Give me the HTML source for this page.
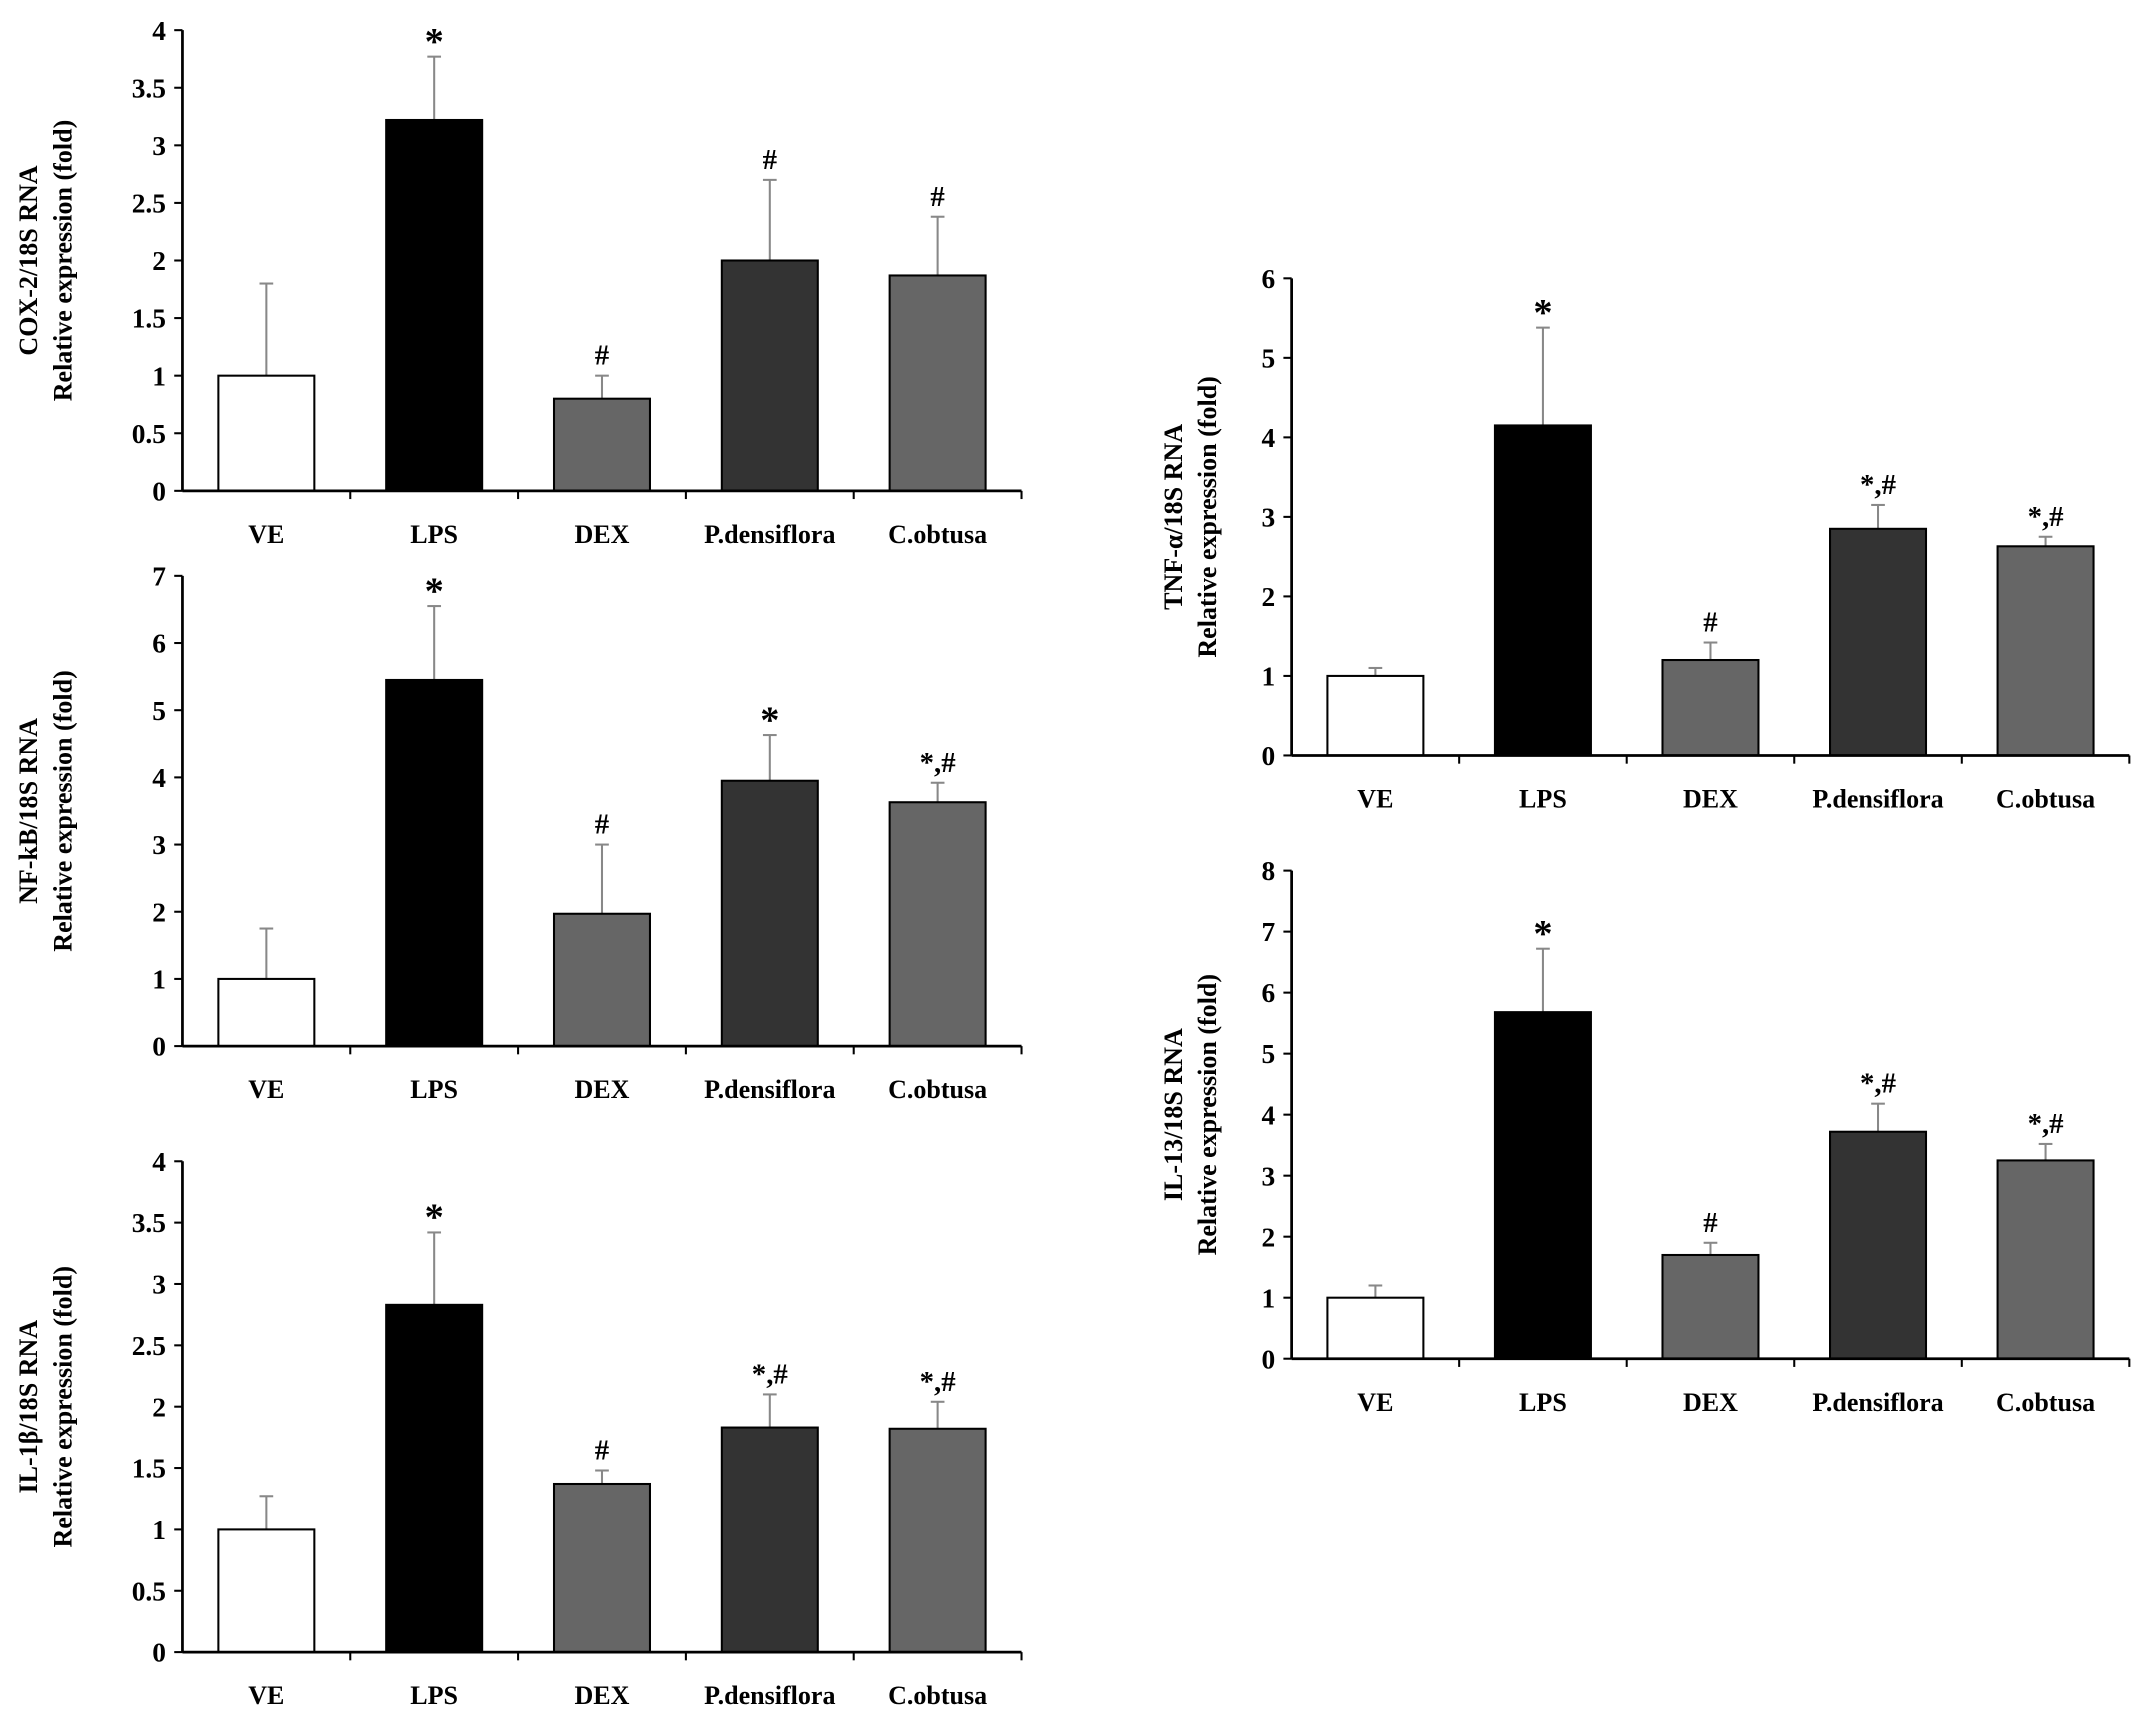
<!DOCTYPE html>
<html><head><meta charset="utf-8"><style>
html,body{margin:0;padding:0;background:#fff;}
svg{display:block;}
text{font-family:"Liberation Serif",serif;font-weight:bold;fill:#000;}
</style></head><body>
<svg id="fig" width="2150" height="1733" viewBox="0 0 1568 1264" xmlns="http://www.w3.org/2000/svg"></svg>
<script>
const categories = ["VE","LPS","DEX","P.densiflora","C.obtusa"];
const colors = ["#ffffff","#000000","#666666","#333333","#666666"];
const cox2Values = [1.0,3.22,0.8,2.0,1.87];
const cox2Errors = [1.8,3.77,1.0,2.7,2.38];
const cox2Marks = ["","*","#","#","#"];
const cox2Ticks = ["0","0.5","1","1.5","2","2.5","3","3.5","4"];
const nfkbValues = [1.0,5.45,1.97,3.95,3.63];
const nfkbErrors = [1.75,6.55,3.0,4.63,3.92];
const nfkbMarks = ["","*","#","*","*,#"];
const nfkbTicks = ["0","1","2","3","4","5","6","7"];
const il1bValues = [1.0,2.83,1.37,1.83,1.82];
const il1bErrors = [1.27,3.42,1.48,2.1,2.04];
const il1bMarks = ["","*","#","*,#","*,#"];
const il1bTicks = ["0","0.5","1","1.5","2","2.5","3","3.5","4"];
const tnfValues = [1.0,4.15,1.2,2.85,2.63];
const tnfErrors = [1.1,5.38,1.42,3.15,2.75];
const tnfMarks = ["","*","#","*,#","*,#"];
const tnfTicks = ["0","1","2","3","4","5","6"];
const il13Values = [1.0,5.68,1.7,3.72,3.25];
const il13Errors = [1.2,6.72,1.9,4.18,3.52];
const il13Marks = ["","*","#","*,#","*,#"];
const il13Ticks = ["0","1","2","3","4","5","6","7","8"];

const svg = document.getElementById('fig');
const NS = "http://www.w3.org/2000/svg";
function mk(tag, attrs, parent){const e=document.createElementNS(NS,tag);for(const k in attrs)e.setAttribute(k,attrs[k]);(parent||svg).appendChild(e);return e;}

function panel(id, cfg, values, errors, marks, ticks, title1, title2){
  const g = mk('g',{});
  
  
  const maxV = parseFloat(ticks[ticks.length-1]);
  const y = v => cfg.y0 - (v/maxV)*(cfg.y0-cfg.yTop);
  const step = (cfg.x1-cfg.x0)/categories.length;
  const xc = i => cfg.x0 + step*(i+0.5);
  const bw = 70;
  values.forEach((v,i)=>{
    const eb = mk('line',{x1:xc(i),x2:xc(i),y1:y(v),y2:y(errors[i]),stroke:'#888','stroke-width':1.5},g);
    
    
    const cap = mk('line',{x1:xc(i)-5,x2:xc(i)+5,y1:y(errors[i]),y2:y(errors[i]),stroke:'#888','stroke-width':1.5},g);
    
    
    const r = mk('rect',{x:xc(i)-bw/2,y:y(v),width:bw,height:cfg.y0-y(v),fill:colors[i],stroke:'#000','stroke-width':1.5},g);
    
    
    if(marks[i]){
      const star = marks[i]==='*';
      const t = mk('text',{x:xc(i),y:y(errors[i])-(star?2:8),'text-anchor':'middle','font-size':star?28:21},g);
      t.textContent = marks[i];
      
      
    }
    const lb = mk('text',{x:xc(i),y:cfg.y0+38,'text-anchor':'middle','font-size':19},g);
    lb.textContent = categories[i];
    
    
  });
  const ya = mk('line',{x1:cfg.x0,x2:cfg.x0,y1:cfg.yTop,y2:cfg.y0,stroke:'#000','stroke-width':2},g);
  
  
  const xa = mk('line',{x1:cfg.x0,x2:cfg.x1,y1:cfg.y0,y2:cfg.y0,stroke:'#000','stroke-width':2},g);
  
  
  for(let i=1;i<=categories.length;i++){
    mk('line',{x1:cfg.x0+step*i,x2:cfg.x0+step*i,y1:cfg.y0,y2:cfg.y0+6,stroke:'#000','stroke-width':1.5},g);
  }
  ticks.forEach(t=>{
    const v=parseFloat(t);
    mk('line',{x1:cfg.x0-6,x2:cfg.x0,y1:y(v),y2:y(v),stroke:'#000','stroke-width':1.5},g);
    const tx = mk('text',{x:cfg.x0-12,y:y(v)+7,'text-anchor':'end','font-size':20},g);
    tx.textContent = t;
    
    
  });
  const cy = (cfg.y0+cfg.yTop)/2;
  const t1 = mk('text',{x:cfg.tx,y:cy,'text-anchor':'middle','font-size':19,transform:`rotate(-90 ${cfg.tx} ${cy})`},g);
  t1.textContent = title1;
  
  
  const t2 = mk('text',{x:cfg.tx+25,y:cy,'text-anchor':'middle','font-size':19,transform:`rotate(-90 ${cfg.tx+25} ${cy})`},g);
  t2.textContent = title2;
  
  
}
panel('cox2',{x0:133,x1:745,y0:358,yTop:22,tx:27},cox2Values,cox2Errors,cox2Marks,cox2Ticks,'COX-2/18S RNA','Relative expression (fold)');
panel('nfkb',{x0:133,x1:745,y0:763,yTop:420,tx:27},nfkbValues,nfkbErrors,nfkbMarks,nfkbTicks,'NF-kB/18S RNA','Relative expression (fold)');
panel('il1b',{x0:133,x1:745,y0:1205,yTop:847,tx:27},il1bValues,il1bErrors,il1bMarks,il1bTicks,'IL-1β/18S RNA','Relative expression (fold)');
panel('tnf',{x0:942,x1:1553,y0:551,yTop:203,tx:862},tnfValues,tnfErrors,tnfMarks,tnfTicks,'TNF-α/18S RNA','Relative expression (fold)');
panel('il13',{x0:942,x1:1553,y0:991,yTop:635,tx:862},il13Values,il13Errors,il13Marks,il13Ticks,'IL-13/18S RNA','Relative expression (fold)');
</script>
</body></html>
